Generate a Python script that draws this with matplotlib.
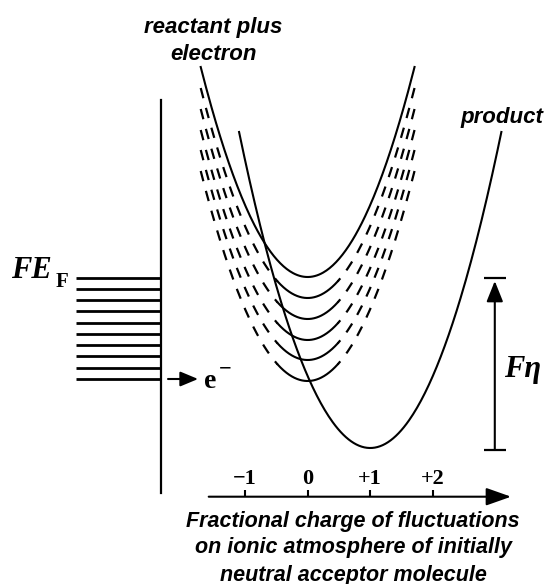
import numpy as np
import matplotlib.pyplot as plt

plt.rcParams['lines.scale_dashes'] = False

# energy levels (vertical units), charge on the horizontal axis
reactant_minima = [171, 150, 129, 108, 88, 67]
reactant_rise = 210
product_charge = 1.0
product_minimum = 0
product_rise = 316
curvature = 72
solid_half_width = 0.48
fermi_levels = [170, 159, 148, 137, 125, 114, 103, 92, 80, 69]
charge_ticks = [-1, 0, 1, 2]
tick_labels = ["\u22121", "0", "+1", "+2"]
overpotential = (0, 170)

SANS = "Liberation Sans"
SERIF = "Liberation Serif"


def parabola(q0, e0, q_from, q_to, n=200):
    q = np.linspace(q_from, q_to, n)
    return q, e0 + curvature * (q - q0) ** 2


fig = plt.figure(figsize=(5.45, 5.84), dpi=100)
ax = fig.add_axes([0, 0, 1, 1])
ax.set_xlim(-4.914, 3.792)
ax.set_ylim(-136, 448)
ax.axis("off")

lw = 1.5
dash = (0, (7.6, 7.2))
half = np.sqrt(reactant_rise / curvature)

# reactant plus electron curves
for i, e0 in enumerate(reactant_minima):
    if i == 0:
        q, e = parabola(0, e0, -half, half)
        ax.plot(q, e, color="k", lw=lw)
        continue
    q, e = parabola(0, e0, -solid_half_width, solid_half_width)
    ax.plot(q, e, color="k", lw=lw)
    for side in (-1, 1):
        q, e = parabola(0, e0, side * half, side * solid_half_width)
        ax.plot(q, e, color="k", lw=1.6, linestyle=dash, dash_capstyle="butt")

# product curve
half_p = np.sqrt(product_rise / curvature)
q, e = parabola(product_charge, product_minimum,
                product_charge - half_p, product_charge + half_p)
ax.plot(q, e, color="k", lw=lw)

# electrode and filled levels
electrode_q = -2.35
ax.plot([electrode_q, electrode_q], [-45, 348], color="k", lw=1.6)
ax.hlines(fermi_levels, -3.70, electrode_q, color="k", lw=2.0)
ax.text(-4.74, 178, "FE", family=SERIF, weight="bold", style="italic",
        fontsize=22, ha="left", va="center")
ax.text(-4.02, 166, "F", family=SERIF, weight="bold", fontsize=15,
        ha="left", va="center")

# electron transfer arrow
ax.annotate("", xy=(-1.75, min(fermi_levels)), xytext=(-2.23, min(fermi_levels)),
            arrowprops=dict(arrowstyle="-|>,head_length=0.6,head_width=0.25",
                            mutation_scale=18, lw=1.5, color="k",
                            shrinkA=0, shrinkB=0))
ax.text(-1.65, 67, "e", family=SERIF, weight="bold", fontsize=20,
        ha="left", va="center")
ax.text(-1.42, 79, "\u2212", family=SERIF, weight="bold", fontsize=16,
        ha="left", va="center")

# overpotential bar
bar_q = 2.99
ax.annotate("", xy=(bar_q, overpotential[1] - 3), xytext=(bar_q, overpotential[0] - 2),
            arrowprops=dict(arrowstyle="-|>,head_length=0.7,head_width=0.28",
                            mutation_scale=18, lw=1.5, color="k",
                            shrinkA=0, shrinkB=0))
ax.hlines([overpotential[0] - 2, overpotential[1]], 2.81, 3.17, color="k", lw=1.6)
ax.text(3.13, 78, "F\u03b7", family=SERIF, weight="bold", style="italic",
        fontsize=22, ha="left", va="center")

# charge axis
axis_e = -48.7
ax.annotate("", xy=(3.25, axis_e), xytext=(-1.58, axis_e),
            arrowprops=dict(arrowstyle="-|>,head_length=0.85,head_width=0.3",
                            mutation_scale=18, lw=1.5, color="k",
                            shrinkA=0, shrinkB=0))
ax.vlines(charge_ticks, axis_e, axis_e + 7, color="k", lw=1.5)
for t, lab in zip(charge_ticks, tick_labels):
    ax.text(t, -31, lab, family=SERIF, weight="bold", fontsize=16,
            ha="center", va="center")

label_lines = ["Fractional charge of fluctuations",
               "on ionic atmosphere of initially",
               "neutral acceptor molecule"]
for k, line in enumerate(label_lines):
    ax.text(0.725, -73 - 27 * k, line, family=SANS, style="italic",
            weight="bold", fontsize=15.5, ha="center", va="center")

ax.text(-1.51, 421, "reactant plus", family=SANS, weight="bold",
        style="italic", fontsize=16, ha="center", va="center")
ax.text(-1.51, 394, "electron", family=SANS, weight="bold",
        style="italic", fontsize=16, ha="center", va="center")
ax.text(3.1, 331, "product", family=SANS, weight="bold",
        style="italic", fontsize=16, ha="center", va="center")

fig.savefig("out.png", dpi=100)
